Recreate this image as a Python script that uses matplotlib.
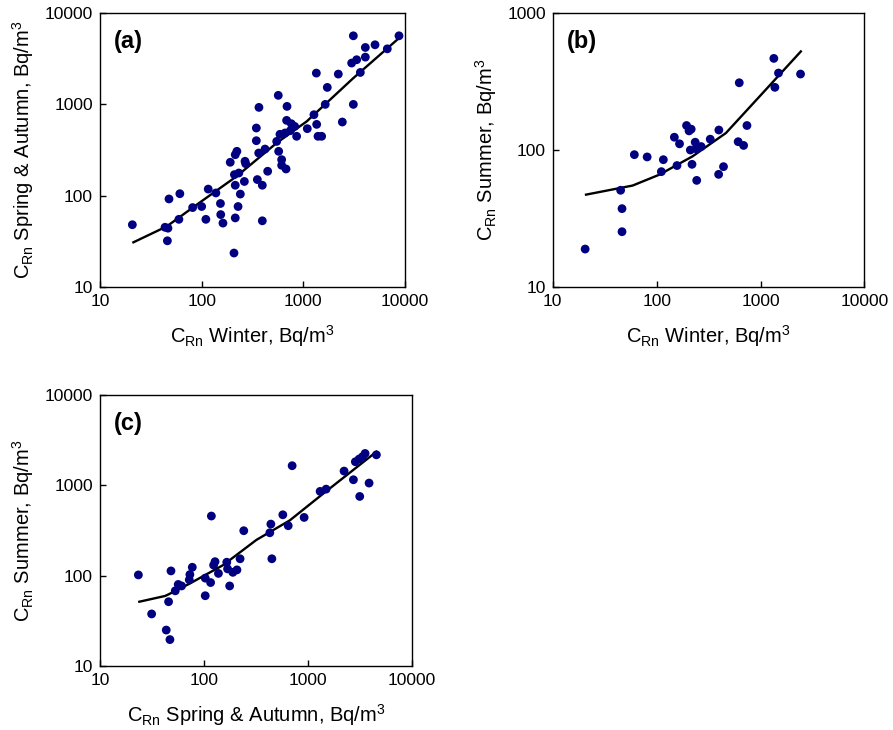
import numpy as np
import matplotlib
matplotlib.use('Agg')
import matplotlib.pyplot as plt
from matplotlib.ticker import NullLocator

plt.rcParams['font.family'] = ['Liberation Sans', 'DejaVu Sans']
plt.rcParams['mathtext.default'] = 'regular'

# (a) winter vs spring & autumn
a_x = [20.8, 43.6, 47.7, 46.6, 46, 61, 59.7, 81.5, 100, 110, 116, 138, 153, 154, 162,
       208, 214, 228, 240, 214, 210, 232, 263, 191, 214, 222, 267, 271, 395, 353, 395,
       446, 364, 420, 345, 345, 366, 547, 572, 612, 612, 676, 567, 691, 685, 762, 589,
       660, 745, 859, 822, 1094, 1272, 1353, 1394, 1514, 1643, 1721, 1343, 2209, 2419,
       3105, 3105, 2988, 3349, 3637, 4074, 4074, 5074, 6700, 8730]
a_y = [48, 45, 92, 44, 32, 105, 55, 74, 76, 55, 118, 107, 82, 62, 50,
       23.5, 57, 76, 104, 130, 170, 177, 143, 232, 281, 306, 238, 224, 53, 150, 130,
       185, 293, 324, 400, 551, 927, 393, 306, 248, 215, 196, 1256, 951, 668, 614, 470,
       486, 515, 447, 574, 542, 771, 604, 447, 447, 1000, 1535, 2203, 2148, 641,
       1000, 5646, 2838, 3086, 2239, 3297, 4205, 4500, 4063, 5646]
a_fit_x = [21.3, 45.3, 100, 221, 547, 1080, 3105, 9270]
a_fit_y = [30.8, 46, 87, 163, 378, 651, 1942, 5646]

# (b) winter vs summer
b_x = [20.5, 45, 46.4, 46.4, 61, 81, 116, 111, 157, 148, 166, 194, 215, 205, 235,
       211, 240, 268, 219, 243, 328, 397, 395, 440, 609, 687, 740, 624, 1343, 1489,
       1374, 2427]
b_y = [18.9, 50.8, 37.3, 25.3, 92.5, 89, 85, 69.5, 77, 124, 111, 151, 142, 138, 114,
       100, 102, 106, 78.6, 60, 120, 140, 66.4, 75.6, 115, 108, 151, 310, 467, 365,
       287, 359]
b_fit_x = [20.9, 58.7, 106, 222, 464, 1045, 2443]
b_fit_y = [47.2, 55, 66, 90, 133, 260, 525]

# (c) spring & autumn vs summer
c_x = [23.4, 31.4, 43.4, 47.1, 45.7, 48.2, 53, 56.6, 61, 72.3, 73.3, 77.3, 103, 103,
       116, 118, 128, 124, 138, 166, 177, 169, 190, 208, 223, 242, 431, 441, 451, 575,
       648, 707, 922, 1314, 1501, 2235, 2749, 3162, 2871, 3117, 3357, 3560, 3890, 4575]
c_y = [102, 37.7, 25, 19.6, 51.5, 113, 68, 80, 77, 90, 103, 124, 94, 60,
       84, 458, 143, 131, 106, 141, 77, 119, 109, 116, 154, 315, 299, 373, 154, 473,
       358, 1653, 442, 859, 910, 1442, 1156, 755, 1829, 1958, 2076, 2260, 1062, 2183]
c_fit_x = [23.9, 42.2, 45.5, 73.3, 153, 320, 671, 1403, 4575]
c_fit_y = [51.5, 59.6, 62, 82, 131, 249, 410, 809, 2361]

dot = '#000080'

fig = plt.figure(figsize=(8.93, 7.30), dpi=100)


def panel(rect, x, y, fx, fy, ylim, tag, xlabel, ylabel):
    ax = fig.add_axes(rect)
    ax.plot(fx, fy, color='black', lw=1.7, zorder=2)
    ax.scatter(x, y, s=40, color=dot, edgecolors='none', zorder=3)
    ax.set_xscale('log')
    ax.set_yscale('log')
    ax.set_xlim(10, 10000)
    ax.set_ylim(*ylim)
    xt = [10, 100, 1000, 10000]
    ax.set_xticks(xt)
    ax.set_xticklabels([str(v) for v in xt])
    yt = [v for v in xt if ylim[0] <= v <= ylim[1]]
    ax.set_yticks(yt)
    ax.set_yticklabels([str(v) for v in yt])
    ax.xaxis.set_minor_locator(NullLocator())
    ax.yaxis.set_minor_locator(NullLocator())
    ax.tick_params(direction='in', length=4, width=1, labelsize=12.5, pad=5)
    for s in ax.spines.values():
        s.set_linewidth(1)
    ax.set_xlabel(xlabel, fontsize=14.5, labelpad=10)
    ax.set_ylabel(ylabel, fontsize=14.5, labelpad=6)
    ax.text(0.045, 0.895, tag, transform=ax.transAxes, fontsize=17,
            fontweight='bold', va='center', ha='left')
    return ax


panel([0.112, 0.607, 0.3415, 0.375], a_x, a_y, a_fit_x, a_fit_y, (10, 10000), '(a)',
      'C$_{Rn}$ Winter, Bq/m$^3$', 'C$_{Rn}$ Spring & Autumn, Bq/m$^3$')
panel([0.619, 0.607, 0.349, 0.375], b_x, b_y, b_fit_x, b_fit_y, (10, 1000), '(b)',
      'C$_{Rn}$ Winter, Bq/m$^3$', 'C$_{Rn}$ Summer, Bq/m$^3$')
panel([0.112, 0.0877, 0.349, 0.371], c_x, c_y, c_fit_x, c_fit_y, (10, 10000), '(c)',
      'C$_{Rn}$ Spring & Autumn, Bq/m$^3$', 'C$_{Rn}$ Summer, Bq/m$^3$')

fig.savefig('out.png', dpi=100)
